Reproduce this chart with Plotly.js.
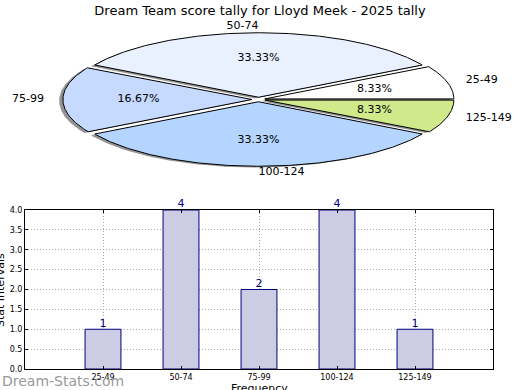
<!DOCTYPE html>
<html><head><meta charset="utf-8">
<script src="https://cdn.plot.ly/plotly-3.0.1.min.js"></script>
<style>html,body{margin:0;padding:0;background:#fff}</style>
</head><body><div id="chart" style="width:520px;height:390px"></div>
<script>
const chartTitle = "Dream Team score tally for Lloyd Meek - 2025 tally";
const categories = ["25-49", "50-74", "75-99", "100-124", "125-149"];
const counts = [1, 4, 2, 4, 1];
const sliceColors = ["#ffffff", "#e9f1ff", "#c6d9ff", "#b3d5ff", "#cfe98b"];
const yTickVals = [0, 0.5, 1, 1.5, 2, 2.5, 3, 3.5, 4];
const yTickText = ["0.0", "0.5", "1.0", "1.5", "2.0", "2.5", "3.0", "3.5", "4.0"];
const xTitle = "Frequency";
const yTitle = "Stat Intervals";
const watermark = "Dream-Stats.com";

const FONT = "DejaVu Sans, sans-serif";
const explode = 0.035;
const total = counts.reduce((a, b) => a + b, 0);

const shadowTraces = [], wedgeTraces = [];
const pctX = [], pctY = [], pctT = [];
const labTraces = [];
let cum = 0;
counts.forEach((v, i) => {
  const t1 = 2 * Math.PI * cum / total;
  cum += v;
  const t2 = 2 * Math.PI * cum / total;
  const m = (t1 + t2) / 2;
  const ox = explode * Math.cos(m), oy = explode * Math.sin(m);
  const xs = [ox], ys = [oy];
  const n = Math.max(8, Math.ceil((t2 - t1) / 0.01));
  for (let k = 0; k <= n; k++) {
    const t = t1 + (t2 - t1) * k / n;
    xs.push(ox + Math.cos(t)); ys.push(oy + Math.sin(t));
  }
  xs.push(ox); ys.push(oy);
  shadowTraces.push({
    type: "scatter", mode: "lines", x: xs.map(x => x - 0.02), y: ys.map(y => y - 0.02),
    fill: "toself", fillcolor: "rgba(60,60,60,0.55)", line: {width: 0},
    xaxis: "x2", yaxis: "y2", hoverinfo: "skip", showlegend: false
  });
  wedgeTraces.push({
    type: "scatter", mode: "lines", x: xs, y: ys,
    fill: "toself", fillcolor: sliceColors[i], line: {width: 1, color: "#000"},
    xaxis: "x2", yaxis: "y2", hoverinfo: "skip", showlegend: false
  });
  pctX.push(ox + 0.6 * Math.cos(m)); pctY.push(oy + 0.6 * Math.sin(m));
  pctT.push((100 * v / total).toFixed(2) + "%");
  const c = Math.cos(m);
  let pos;
  if (c > 0.01) pos = "middle right";
  else if (c < -0.01) pos = "middle left";
  else pos = Math.sin(m) > 0 ? "middle left" : "middle right";
  labTraces.push({
    type: "scatter", mode: "text", x: [ox + 1.1 * Math.cos(m)], y: [oy + 1.1 * Math.sin(m)],
    text: [categories[i]], textposition: pos, cliponaxis: false,
    textfont: {family: FONT, size: 11, color: "#000"},
    xaxis: "x2", yaxis: "y2", hoverinfo: "skip", showlegend: false
  });
});

const pctTrace = {
  type: "scatter", mode: "text", x: pctX, y: pctY, text: pctT, textposition: "middle center",
  textfont: {family: FONT, size: 11, color: "#000"}, cliponaxis: false,
  xaxis: "x2", yaxis: "y2", hoverinfo: "skip", showlegend: false
};

const barTrace = {
  type: "bar", x: categories, y: counts, width: 0.46,
  marker: {color: "#ccccE4", line: {color: "#000080", width: 1}},
  xaxis: "x", yaxis: "y", hoverinfo: "skip", showlegend: false
};
const barText = {
  type: "scatter", mode: "text", x: categories, y: counts, text: counts.map(String),
  textposition: "top center", cliponaxis: false,
  textfont: {family: FONT, size: 11, color: "#000080"},
  xaxis: "x", yaxis: "y", hoverinfo: "skip", showlegend: false
};

const W = 520, H = 390;
const layout = {
  width: W, height: H,
  margin: {l: 0, r: 0, t: 0, b: 0},
  paper_bgcolor: "#fff", plot_bgcolor: "rgba(0,0,0,0)",
  showlegend: false,
  font: {family: FONT, color: "#000"},
  title: {text: chartTitle, x: 0.5, xanchor: "center", y: 1 - 10 / H, yanchor: "middle",
          font: {family: FONT, size: 13, color: "#000"}},
  xaxis: {
    domain: [25 / W, 493 / W], range: [-1, 5], type: "category",
    showgrid: true, gridcolor: "#aaaaaa", griddash: "1px,2px", gridwidth: 1,
    showline: true, linecolor: "#000", linewidth: 1, mirror: "ticks",
    ticks: "inside", ticklen: 3, tickcolor: "#000",
    tickfont: {family: FONT, size: 8, color: "#000"}, layer: "above traces",
    zeroline: false, fixedrange: true, anchor: "y"
  },
  yaxis: {
    domain: [(H - 369) / H, (H - 210) / H], range: [0, 4],
    tickvals: yTickVals, ticktext: yTickText,
    showgrid: true, gridcolor: "#aaaaaa", griddash: "1px,2px", gridwidth: 1,
    showline: true, linecolor: "#000", linewidth: 1, mirror: "ticks",
    ticks: "inside", ticklen: 3, tickcolor: "#000",
    tickfont: {family: FONT, size: 8, color: "#000"}, layer: "above traces",
    zeroline: false, fixedrange: true, anchor: "x"
  },
  xaxis2: {
    domain: [0, 1], range: [-258.5 / 189, (W - 258.5) / 189],
    visible: false, fixedrange: true, anchor: "y2"
  },
  yaxis2: {
    domain: [0.5, 1], range: [-95.5 / 64.5, 99.5 / 64.5],
    visible: false, fixedrange: true, anchor: "x2"
  },
  annotations: [
    {text: xTitle, xref: "paper", yref: "paper", x: 259 / W, y: 2 / H, xanchor: "center", yanchor: "middle",
     showarrow: false, font: {family: FONT, size: 11, color: "#000"}},
    {text: yTitle, xref: "paper", yref: "paper", x: 0, y: 100 / H, xanchor: "center", yanchor: "middle",
     textangle: -90, showarrow: false, font: {family: FONT, size: 11, color: "#000"}},
    {text: watermark, xref: "paper", yref: "paper", x: 0, y: 9 / H, xanchor: "left", yanchor: "middle",
     showarrow: false, font: {family: FONT, size: 14, color: "#999999"}}
  ]
};

Plotly.newPlot("chart", [barTrace, barText, ...shadowTraces, ...wedgeTraces, pctTrace, ...labTraces],
  layout, {displayModeBar: false, staticPlot: true});
</script></body></html>
